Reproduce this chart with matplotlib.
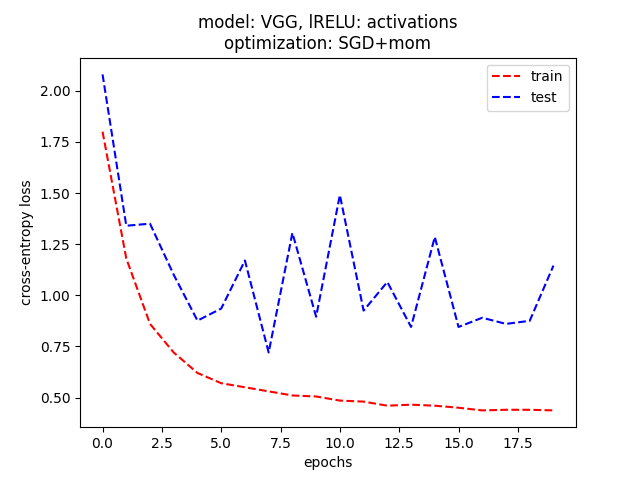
import numpy as np
import matplotlib
matplotlib.use("Agg")
import matplotlib.pyplot as plt

epochs = list(range(20))
train_loss = [1.80, 1.18, 0.86, 0.72, 0.62, 0.57, 0.55, 0.53, 0.51, 0.505,
              0.485, 0.48, 0.46, 0.465, 0.46, 0.45, 0.437, 0.44, 0.44, 0.437]
test_loss = [2.08, 1.34, 1.35, 1.10, 0.876, 0.935, 1.17, 0.72, 1.305, 0.895,
             1.49, 0.925, 1.065, 0.845, 1.285, 0.845, 0.89, 0.86, 0.875, 1.145]

fig, ax = plt.subplots(figsize=(6.4, 4.8), dpi=100)
ax.plot(epochs, train_loss, 'r--', label='train')
ax.plot(epochs, test_loss, 'b--', label='test')
ax.set_xlabel("epochs")
ax.set_ylabel("cross-entropy loss")
ax.set_title("model: VGG, lRELU: activations\noptimization: SGD+mom")
ax.legend(loc='upper right')
fig.savefig("out.png")
